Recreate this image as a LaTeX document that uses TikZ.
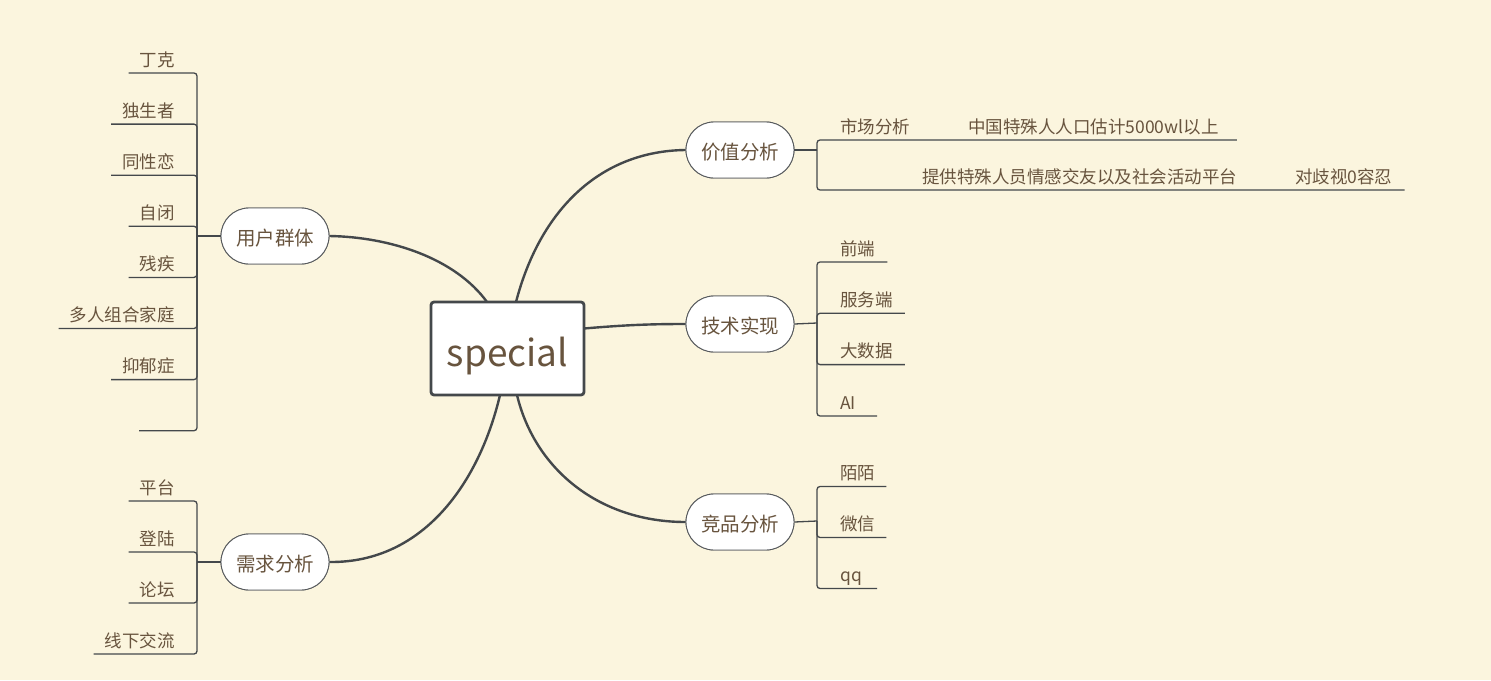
\documentclass[tikz,border=0pt]{standalone}
\usepackage{fontspec}
\setmainfont{Noto Sans CJK SC}
\usetikzlibrary{shapes.misc,calc}
\definecolor{bg}{RGB}{251,245,222}
\definecolor{ln}{RGB}{68,72,75}
\definecolor{tx}{RGB}{104,84,62}
\begin{document}
\begin{tikzpicture}[x=1pt,y=-1pt,
  every node/.style={text=tx},
  centre/.style={draw=ln, fill=white, line width=2.8pt, rounded corners=3pt, minimum width=153pt, minimum height=93pt, font=\fontsize{37}{40}\selectfont, inner sep=0pt, text height=36pt, text depth=0pt},
  branch/.style={rounded rectangle, draw=ln!90, fill=white, line width=0.9pt, minimum width=108pt, minimum height=56pt, font=\fontsize{19.5}{22}\selectfont, inner sep=0pt, text height=21.2pt, text depth=1.4pt},
  leaf/.style={font=\fontsize{17.5}{20}\selectfont, inner sep=0pt},
  trunk/.style={draw=ln, line width=2.4pt},
  twig/.style={draw=ln, line width=1.3pt, rounded corners=3pt},
]
\fill[bg] (0,0) rectangle (1491,680);
\useasboundingbox (0,0) rectangle (1491,680);

% central and branch node positions
\coordinate (c) at (507.5,348.5);
\coordinate (cNW) at (431,302);
\coordinate (cSW) at (431,395);
\coordinate (cE) at (584,348.5);
\node[branch] (ug) at (275,236) {用户群体};
\node[branch] (xq) at (275,562) {需求分析};
\node[branch] (jz) at (740,150) {价值分析};
\node[branch] (js) at (740,324) {技术实现};
\node[branch] (jp) at (740,522) {竞品分析};

% trunks
\draw[trunk] ($(cNW)+(56,0)$) .. controls (455,258) and (390,237) .. (ug.east);
\draw[trunk] ($(cNW)+(85,0)$) .. controls (540,210) and (600,151) .. (jz.west);
\draw[trunk] ($(cE)+(0,-20)$) .. controls (625,325) and (650,324) .. (js.west);
\draw[trunk] ($(cSW)+(86,0)$) .. controls (535,470) and (600,522) .. (jp.west);
\draw[trunk] ($(cSW)+(69,0)$) .. controls (480,480) and (425,563) .. (xq.east);

% nodes on top of the trunks
\node[centre] (sp) at (c) {special};
\node[branch] at (ug) {用户群体};
\node[branch] at (xq) {需求分析};
\node[branch] at (jz) {价值分析};
\node[branch] at (js) {技术实现};
\node[branch] at (jp) {竞品分析};

% junctions
\coordinate (ugj) at (197,236);
\coordinate (xqj) at (197,562);
\coordinate (jzj) at (817,150);
\coordinate (jsj) at (817,323);
\coordinate (jpj) at (817,521);

% 用户群体 leaves
\node[leaf, anchor=base east] (u1) at (175,66) {丁克};
\node[leaf, anchor=base east] (u2) at (175,117.1) {独生者};
\node[leaf, anchor=base east] (u3) at (175,168.2) {同性恋};
\node[leaf, anchor=base east] (u4) at (175,219.3) {自闭};
\node[leaf, anchor=base east] (u5) at (175,270.4) {残疾};
\node[leaf, anchor=base east] (u6) at (175,321.5) {多人组合家庭};
\node[leaf, anchor=base east] (u7) at (175,372.6) {抑郁症};
\coordinate (u8) at (139,430.7);
\draw[twig] (ug.west) -- (ugj);
\foreach \n in {u1,u2,u3,u4,u5,u6,u7}{
  \draw[twig] (ugj) |- ($(\n.base west)+(-11,7)$);
}
\draw[twig] (ugj) |- (u8);

% 需求分析 leaves
\node[leaf, anchor=base east] (x1) at (175,494) {平台};
\node[leaf, anchor=base east] (x2) at (175,545) {登陆};
\node[leaf, anchor=base east] (x3) at (175,596) {论坛};
\node[leaf, anchor=base east] (x4) at (175,647) {线下交流};
\draw[twig] (xq.west) -- (xqj);
\foreach \n in {x1,x2,x3,x4}{
  \draw[twig] (xqj) |- ($(\n.base west)+(-11,7)$);
}

% 技术实现 leaves
\node[leaf, anchor=base west] (s1) at (840,255) {前端};
\node[leaf, anchor=base west] (s2) at (840,306.3) {服务端};
\node[leaf, anchor=base west] (s3) at (840,357.6) {大数据};
\node[leaf, anchor=base west] (s4) at (840,409) {AI};
\draw[twig] (js.east) -- (jsj);
\foreach \n in {s1,s2,s3}{
  \draw[twig] (jsj) |- ($(\n.base east)+(12,7)$);
}
\draw[twig] (jsj) |- ($(s4.base west)+(37,7)$);

% 竞品分析 leaves
\node[leaf, anchor=base west] (p1) at (840,479.5) {陌陌};
\node[leaf, anchor=base west] (p2) at (840,530.5) {微信};
\node[leaf, anchor=base west] (p3) at (840,581.5) {qq};
\draw[twig] (jp.east) -- (jpj);
\foreach \n in {p1,p2}{
  \draw[twig] (jpj) |- ($(\n.base east)+(11,7)$);
}
\draw[twig] (jpj) |- ($(p3.base west)+(37,7)$);

% 价值分析 leaves
\node[leaf, anchor=base west] (m1) at (840,133) {市场分析};
\node[leaf, anchor=base west] (m2) at (968,133) {中国特殊人人口估计5000wl以上};
\coordinate (e1) at (877,190);
\node[leaf, anchor=base west] (t1) at (922,183) {提供特殊人员情感交友以及社会活动平台};
\node[leaf, anchor=base west] (t2) at (1295,183) {对歧视0容忍};
\draw[twig] (jz.east) -- (jzj);
\draw[twig] (jzj) |- ($(m1.base east)+(12,7)$) -- ($(m2.base east)+(18,7)$);
\draw[twig] (jzj) |- (e1) -- ($(t1.base east)+(12,7)$) -- ($(t2.base east)+(12,7)$);
\end{tikzpicture}
\end{document}
